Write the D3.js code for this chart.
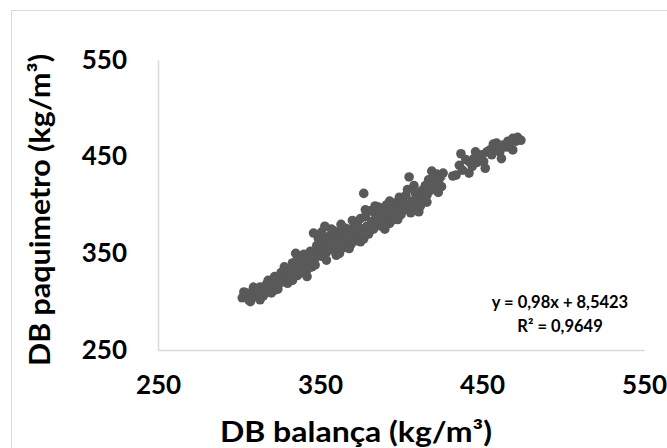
<!DOCTYPE html>
<html>
<head>
<meta charset="utf-8">
<script src="https://cdn.jsdelivr.net/npm/d3@7"></script>
<style>
  html, body { margin: 0; padding: 0; background: #fff; }
  svg { display: block; }
</style>
</head>
<body>
<svg id="chart" width="667" height="448"></svg>
<script>
// ---- data ----
const xTicks = [250, 350, 450, 550];
const yTicks = [250, 350, 450, 550];
const xTitle = "DB balança (kg/m³)";
const yTitle = "DB paquimetro (kg/m³)";
const equationLines = ["y = 0,98x + 8,5423", "R² = 0,9649"];
const trendCoef = [0.98, 8.5423]; // slope, intercept

const balanca = [
  302,305,307,308,310,311,313,313,314,316,317,318,319,320,321,322,323,324,325,326,
  303,306,309,312,315,318,320,322,324,326,
  327,328,329,330,331,332,333,334,335,335,336,337,338,339,340,341,342,343,344,345,
  328,330,333,336,338,340,342,344,345,347,
  346,346,347,348,349,350,351,352,353,353,354,355,356,357,358,359,360,361,362,362,
  363,364,365,366,367,368,369,370,371,372,
  349,351,354,357,360,363,365,368,370,372,
  373,374,375,376,377,377,378,379,380,381,382,383,384,385,386,387,388,389,390,391,
  392,393,394,395,396,397,398,399,400,401,
  375,378,381,384,387,390,393,396,399,
  402,403,404,405,406,407,408,409,410,411,412,413,414,415,416,417,418,419,420,421,
  422,423,424,425,426,
  404,408,412,416,419,423,
  432,434,436,437,438,440,442,442,444,445,447,449,450,452,453,455,456,458,459,461,
  463,465,467,469,469,471,474,
  446,451,457,462,466,472
];
const paquimetro = [
  304,309,300,306,311,305,302,315,309,313,318,310,314,320,316,312,322,318,325,320,
  310,302,315,308,306,322,309,326,313,330,
  328,321,331,325,334,328,322,331,350,338,327,334,341,330,337,344,333,339,347,336,
  336,319,340,344,330,349,326,352,343,338,
  371,352,345,358,350,362,347,355,378,365,351,359,368,354,362,373,357,366,350,372,
  361,369,356,376,364,371,359,367,378,363,
  365,372,343,375,348,380,368,355,384,372,
  380,370,386,375,412,365,388,378,370,394,383,375,391,380,398,386,378,393,384,400,
  389,381,396,388,402,392,385,399,390,405,
  362,395,376,399,392,375,404,385,408,
  395,410,400,429,392,404,397,412,401,393,408,415,404,420,410,426,415,422,429,418,
  432,424,428,419,433,
  416,420,399,403,435,413,
  430,431,441,453,436,447,433,445,440,448,444,450,452,438,455,457,452,460,464,455,
  462,460,463,457,469,466,467,
  455,445,463,448,466,470
];

// ---- chart ----
const svg = d3.select("#chart");

// outer chart-area border
svg.append("rect")
  .attr("x", 11.5).attr("y", 10.5)
  .attr("width", 700).attr("height", 500)
  .attr("fill", "#fff")
  .attr("stroke", "#d9d9d9").attr("stroke-width", 1);

const x = d3.scaleLinear().domain([250, 550]).range([158, 644]);
const y = d3.scaleLinear().domain([250, 550]).range([350, 60]);

const font = "Lato, 'Open Sans', sans-serif";

// axes
const xAxis = svg.append("g")
  .attr("transform", `translate(0,${y(250)})`)
  .call(d3.axisBottom(x).tickValues(xTicks).tickSize(0).tickPadding(26).tickFormat(d3.format("d")));
const yAxis = svg.append("g")
  .attr("transform", `translate(${x(250)},0)`)
  .call(d3.axisLeft(y).tickValues(yTicks).tickSize(0).tickPadding(31).tickFormat(d3.format("d")));

[xAxis, yAxis].forEach(g => {
  g.select(".domain").attr("stroke", "#d9d9d9").attr("stroke-width", 1.5);
  g.selectAll(".tick text")
    .attr("fill", "#000")
    .style("font-family", font)
    .style("font-weight", "bold")
    .style("font-size", "26px");
});

// trendline (dotted)
const data = balanca.map((b, i) => ({ b, p: paquimetro[i] }));
const xMin = d3.min(balanca), xMax = d3.max(balanca);
svg.append("line")
  .attr("x1", x(xMin)).attr("y1", y(trendCoef[0] * xMin + trendCoef[1]))
  .attr("x2", x(xMax)).attr("y2", y(trendCoef[0] * xMax + trendCoef[1]))
  .attr("stroke", "#7f7f7f").attr("stroke-width", 1.5)
  .attr("stroke-dasharray", "1.5,3");

// points
svg.append("g").selectAll("circle")
  .data(data)
  .join("circle")
  .attr("cx", d => x(d.b))
  .attr("cy", d => y(d.p))
  .attr("r", 4.8)
  .attr("fill", "#595959");

// equation
const eq = svg.append("text")
  .attr("x", 560).attr("y", 308)
  .attr("text-anchor", "middle")
  .style("font-family", font).style("font-weight", "bold").style("font-size", "16.5px")
  .attr("fill", "#000");
eq.selectAll("tspan").data(equationLines).join("tspan")
  .attr("x", 560)
  .attr("dy", (d, i) => i === 0 ? 0 : 24)
  .text(d => d);

// axis titles
svg.append("text")
  .attr("x", 356)
  .attr("y", 442)
  .attr("text-anchor", "middle")
  .attr("textLength", 272)
  .attr("lengthAdjust", "spacingAndGlyphs")
  .style("font-family", font).style("font-weight", "bold").style("font-size", "28px")
  .attr("fill", "#000")
  .text(xTitle);

svg.append("text")
  .attr("transform", `translate(50,210) rotate(-90)`)
  .attr("text-anchor", "middle")
  .attr("textLength", 312)
  .attr("lengthAdjust", "spacingAndGlyphs")
  .style("font-family", font).style("font-weight", "bold").style("font-size", "28px")
  .attr("fill", "#000")
  .text(yTitle);
</script>
</body>
</html>
